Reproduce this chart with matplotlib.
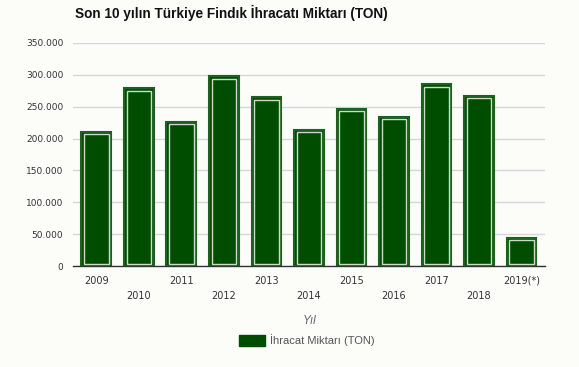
import numpy as np
import matplotlib.pyplot as plt
from matplotlib.patches import Patch

# Son 10 yilin findik ihracati (ton)
YEARS = ['2009', '2010', '2011', '2012', '2013', '2014', '2015', '2016',
         '2017', '2018', '2019(*)']
EXPORT_TON = [211000, 279000, 226000, 298000, 265000, 214000, 247000,
              234000, 285000, 267000, 44000]
Y_TICKS = [0, 50000, 100000, 150000, 200000, 250000, 300000, 350000]
Y_LABELS = ['0', '50.000', '100.000', '150.000', '200.000', '250.000',
            '300.000', '350.000']

BG = '#fcfcf9'
GREEN = '#004d00'
EDGE = '#1f5f1f'
INNER = '#c9dcc9'

fig = plt.figure(figsize=(5.79, 3.67), dpi=100, facecolor=BG)
ax = fig.add_axes([0.126, 0.275, 0.815, 0.608], facecolor=BG)

x = np.arange(len(YEARS))
w = 0.7
ax.bar(x, EXPORT_TON, width=w, color=GREEN, edgecolor=EDGE, linewidth=1.5,
       zorder=3)
# thin light line inset inside each bar
inset_x = 0.06
inset_y = 3800
vals = np.array(EXPORT_TON)
ax.bar(x, vals - 2 * inset_y, width=w - 2 * inset_x, bottom=inset_y,
       facecolor='none', edgecolor=INNER, linewidth=1.0, zorder=4)

ax.set_xlim(-0.55, len(YEARS) - 0.45)
ax.set_ylim(0, 350000)
ax.set_yticks(Y_TICKS)
ax.set_yticklabels(Y_LABELS, fontsize=6.5, color='#333333')
ax.yaxis.grid(True, color='#d6d6d6', linewidth=1.0, zorder=0)
ax.tick_params(axis='y', length=0, pad=7)

ax.set_xticks(x)
ax.set_xticklabels([])
ax.tick_params(axis='x', length=0)
for i, lab in enumerate(YEARS):
    dy = -7 if i % 2 == 0 else -18
    ax.annotate(lab, (i, 0), xytext=(0, dy), textcoords='offset points',
                ha='center', va='top', fontsize=7, color='#333333',
                xycoords=('data', 'data'))

for s in ['top', 'right', 'left']:
    ax.spines[s].set_visible(False)
ax.spines['bottom'].set_color('#333333')
ax.spines['bottom'].set_linewidth(1.0)
ax.spines['bottom'].set_zorder(5)

fig.text(0.535, 0.125, 'Yıl', ha='center', va='center', fontsize=8.5,
         style='italic', color='#666666', family='Liberation Sans')

fig.text(0.13, 0.965, 'Son 10 yılın Türkiye Findık İhracatı Miktarı (TON)',
         ha='left', va='center', fontsize=9.8, fontweight='bold',
         color='#111111', family='Liberation Sans')

handle = Patch(facecolor=GREEN, edgecolor=GREEN)
leg = fig.legend([handle], ['İhracat Miktarı (TON)'], loc='center',
                 bbox_to_anchor=(0.53, 0.073), frameon=False,
                 prop={'family': 'Liberation Sans', 'size': 8},
                 handlelength=2.3, handleheight=1.1, handletextpad=0.5)
for t in leg.get_texts():
    t.set_color('#555555')

fig.savefig('out.png', dpi=100, facecolor=BG)
